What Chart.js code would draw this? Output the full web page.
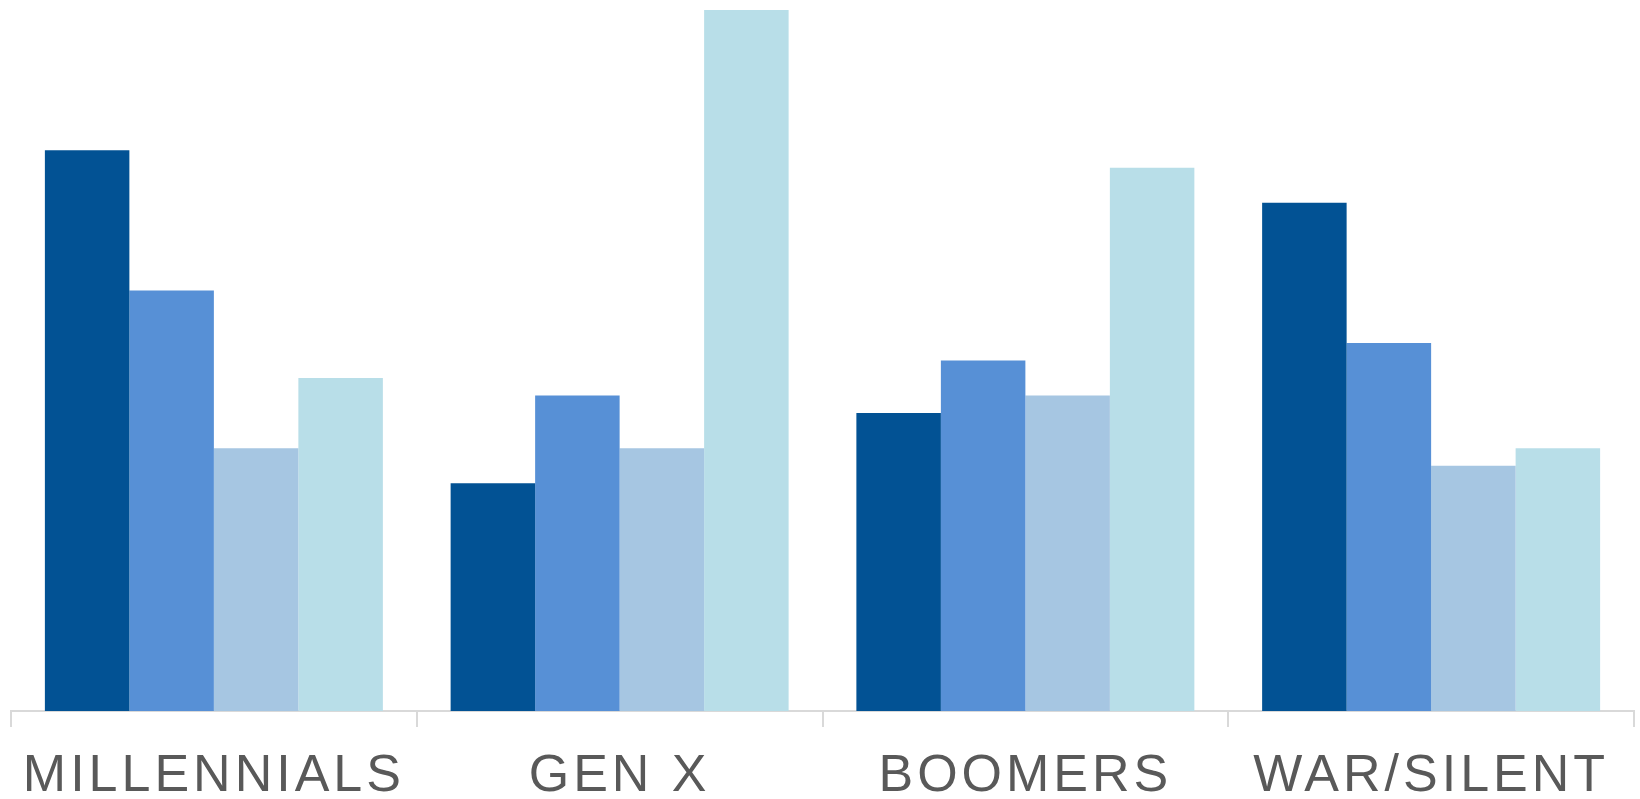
<!DOCTYPE html>
<html>
<head>
<meta charset="utf-8">
<script src="https://cdn.jsdelivr.net/npm/chart.js@4/dist/chart.umd.min.js"></script>
<style>
  html, body { margin: 0; padding: 0; background: #fff; }
  #wrap { width: 1640px; height: 799px; }
</style>
</head>
<body>
<div id="wrap"><canvas id="gen-chart"></canvas></div>
<script>
const generations = ['MILLENNIALS', 'GEN X', 'BOOMERS', 'WAR/SILENT'];
const series1 = [32, 13, 17, 29];
const series2 = [24, 18, 20, 21];
const series3 = [15, 15, 18, 14];
const series4 = [19, 40, 31, 15];
const barColors = ['#025294', '#5790d6', '#a6c6e2', '#b8dee8'];

// spread the category letters out a bit
const spacingPlugin = {
    id: 'letterSpacing',
    beforeLayout: (chart) => { chart.ctx.letterSpacing = '4px'; },
    beforeDraw: (chart) => { chart.ctx.letterSpacing = '4px'; }
};

const makeSet = (label, values, i) => ({
    label: label,
    data: values,
    backgroundColor: barColors[i],
    borderWidth: 0,
    barPercentage: 1,
    categoryPercentage: 0.833
});

const config = {
    type: 'bar',
    data: {
        labels: generations,
        datasets: [
            makeSet('Series 1', series1, 0),
            makeSet('Series 2', series2, 1),
            makeSet('Series 3', series3, 2),
            makeSet('Series 4', series4, 3)
        ]
    },
    options: {
        responsive: true,
        maintainAspectRatio: false,
        animation: false,
        layout: { padding: { left: 11, right: 6, top: 10, bottom: 0 } },
        plugins: {
            legend: { display: false },
            tooltip: { enabled: false }
        },
        scales: {
            x: {
                // fixed axis band height, no extra side padding for the labels
                afterFit: (scale) => {
                    scale.height = 88;
                    scale.paddingLeft = 0;
                    scale.paddingRight = 0;
                },
                grid: {
                    offset: true,
                    drawOnChartArea: false,
                    drawTicks: true,
                    tickLength: 16,
                    color: '#d9d9d9',
                    lineWidth: 2
                },
                border: { color: '#d9d9d9', width: 2 },
                ticks: {
                    color: '#595959',
                    padding: 24,
                    maxRotation: 0,
                    font: { family: '"Liberation Sans", Arial, sans-serif', size: 52, lineHeight: 1.0 }
                }
            },
            y: {
                display: false,
                min: 0,
                max: 40
            }
        }
    },
    plugins: [spacingPlugin]
};

const ctx = document.getElementById('gen-chart').getContext('2d');
new Chart(ctx, config);
</script>
</body>
</html>
